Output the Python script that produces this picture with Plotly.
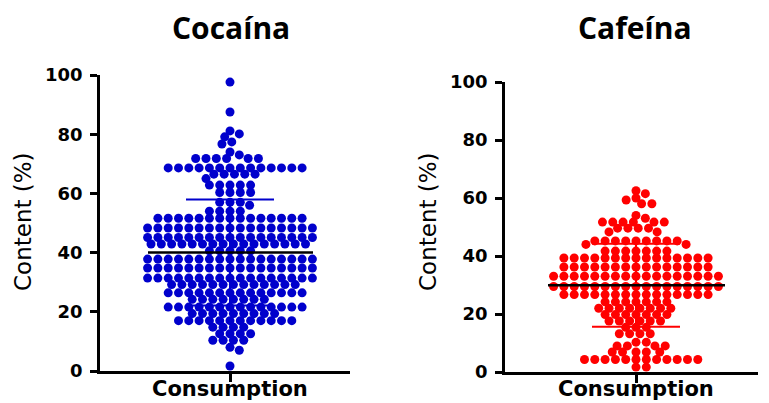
import math
import statistics
import plotly.graph_objects as go

# Content (%) measured per consumption sample
cocaine_content = [
    97.6, 87.5, 81.1, 80.1, 79.1, 77.4, 76.7, 74.0, 73.0,
    71.8, 71.8, 71.8, 71.8, 71.8, 71.8,
    68.6, 68.6, 68.6, 68.6, 68.6, 68.6, 68.6, 68.6, 68.6, 68.6, 68.6, 68.6, 68.6, 68.6,
    66.5, 66.5, 66.5, 66.5, 66.5, 65.0,
    62.8, 62.8, 62.8, 62.8, 62.8, 60.3, 60.3, 60.3, 60.3,
    57.0, 57.0, 57.0, 56.0, 54.0, 54.0, 54.0, 54.0,
    51.6, 51.6, 51.6, 51.6, 51.6, 51.6, 51.6, 51.6, 51.6, 51.6, 51.6, 51.6, 51.6, 51.6, 51.6,
    48.3, 48.3, 48.3, 48.3, 48.3, 48.3, 48.3, 48.3, 48.3, 48.3, 48.3, 48.3, 48.3, 48.3, 48.3, 48.3, 48.3,
    45.1, 45.1, 45.1, 45.1, 45.1, 45.1, 45.1, 45.1, 45.1, 45.1, 45.1, 45.1, 45.1, 45.1, 45.1, 45.1, 45.1,
    42.9, 42.9, 42.9, 42.9, 42.9, 42.9, 42.9, 42.9, 42.9, 42.9, 42.9, 42.9, 42.9, 42.9, 42.9, 42.9,
    40.6, 40.6, 40.6, 40.6, 40.6,
    37.8, 37.8, 37.8, 37.8, 37.8, 37.8, 37.8, 37.8, 37.8, 37.8, 37.8, 37.8, 37.8, 37.8, 37.8, 37.8, 37.8,
    34.8, 34.8, 34.8, 34.8, 34.8, 34.8, 34.8, 34.8, 34.8, 34.8, 34.8, 34.8, 34.8, 34.8, 34.8, 34.8, 34.8,
    31.4, 31.4, 31.4, 31.4, 31.4, 31.4, 31.4, 31.4, 31.4, 31.4, 31.4, 31.4, 31.4, 31.4, 31.4, 31.4, 31.4,
    29.2, 29.2, 29.2, 29.2, 29.2, 29.2, 29.2, 29.2, 29.2, 29.2, 29.2, 29.2, 29.2,
    26.4, 26.4, 26.4, 26.4, 26.4, 26.4, 26.4, 26.4, 26.4, 26.4, 26.4, 26.4, 26.4, 26.4,
    24.2, 24.2, 24.2, 24.2, 24.2, 24.2, 24.2, 24.2,
    21.6, 21.6, 21.6, 21.6, 21.6, 21.6, 21.6, 21.6, 21.6, 21.6, 21.6, 21.6, 21.6, 21.6,
    19.4, 19.4, 19.4, 19.4, 19.4, 19.4, 19.4, 19.4, 19.4,
    17.0, 17.0, 17.0, 17.0, 17.0, 17.0, 17.0, 17.0, 17.0, 17.0, 17.0, 17.0,
    14.8, 14.8, 14.8, 14.8, 12.6, 12.6, 12.6, 12.6,
    10.4, 10.4, 10.4, 10.4, 8.0, 7.0, 1.7,
]

caffeine_content = [
    62.5, 61.5, 60.0, 59.3, 58.0, 58.0, 54.0, 53.0,
    51.7, 51.7, 51.7, 51.7, 51.7, 51.7, 49.6, 49.6, 49.6, 49.6, 48.3, 48.3,
    45.2, 45.2, 45.2, 45.2, 45.2, 45.2, 45.2, 45.2, 45.2, 44.0, 44.0,
    41.7, 41.7, 41.7, 41.7, 41.7, 41.7, 41.7,
    39.3, 39.3, 39.3, 39.3, 39.3, 39.3, 39.3, 39.3, 39.3, 39.3, 39.3, 39.3, 39.3, 39.3, 39.3,
    36.2, 36.2, 36.2, 36.2, 36.2, 36.2, 36.2, 36.2, 36.2, 36.2, 36.2, 36.2, 36.2, 36.2, 36.2,
    33.0, 33.0, 33.0, 33.0, 33.0, 33.0, 33.0, 33.0, 33.0, 33.0, 33.0, 33.0, 33.0, 33.0, 33.0, 33.0, 33.0,
    29.5, 29.5, 29.5, 29.5, 29.5, 29.5, 29.5, 29.5, 29.5, 29.5, 29.5, 29.5, 29.5, 29.5, 29.5, 29.5, 29.5,
    26.7, 26.7, 26.7, 26.7, 26.7, 26.7, 26.7, 26.7, 26.7, 26.7, 26.7, 26.7, 26.7, 26.7, 26.7,
    24.2, 24.2, 24.2, 24.2, 24.2, 24.2, 24.2,
    22.0, 22.0, 22.0, 22.0, 22.0, 22.0, 22.0, 22.0,
    19.8, 19.8, 19.8, 19.8, 19.8, 19.8, 19.8,
    17.6, 17.6, 17.6, 17.6, 17.6, 17.6, 15.4, 15.4, 15.4,
    13.2, 13.2, 13.2, 13.2, 10.3, 10.3, 9.0, 9.0, 9.0, 9.0,
    6.9, 6.9, 6.9, 6.9, 6.9,
    4.3, 4.3, 4.3, 4.3, 4.3, 4.3, 4.3, 4.3, 4.3, 4.3, 4.3, 4.3, 1.7, 1.7,
]

panel_titles = ["Cocaína", "Cafeína"]
category_label = "Consumption"
y_title = "Content (%)"
y_ticks = [0, 20, 40, 60, 80, 100]

W, H = 769, 403

# Panel geometry in pixels (left edge, right edge, category centre, top, bottom)
panels = [
    dict(x0=100, x1=350, cx=230, top=75, bot=371, color="#0000CC",
         mean_half=(82, 83), title_x=231, ytitle_x=23),
    dict(x0=505, x1=758, cx=636, top=82, bot=372, color="#FF0000",
         mean_half=(88, 89), title_x=635, ytitle_x=428),
]


def swarm_offsets(values, px_per_unit, step=10.3, rad=6.9):
    """Greedy beeswarm: each point goes to the free slot nearest the centre line.
    Horizontal distances are scaled so equal values sit `step` px apart while
    neighbouring rows can interleave."""
    k = step / rad
    placed = []
    xs = [0.0] * len(values)
    order = sorted(range(len(values)), key=lambda i: -values[i])
    for i in order:
        y = values[i] * px_per_unit
        near = [(px, py) for px, py in placed if abs(py - y) < rad]
        cands = {0.0}
        for px, py in near:
            h = math.sqrt(rad * rad - (py - y) ** 2)
            cands.add(px + h)
            cands.add(px - h)
        best = 0.0
        for c in sorted(cands, key=lambda c: (abs(c), -c)):
            if all((c - px) ** 2 + (py - y) ** 2 >= rad * rad - 1e-6 for px, py in near):
                best = c
                break
        placed.append((best, y))
        xs[i] = best * k
    return xs


fig = go.Figure()
axis_font = dict(family="DejaVu Sans", size=18, color="black", weight="bold")

for n, (vals, p) in enumerate(zip([cocaine_content, caffeine_content], panels), start=1):
    ppu = (p["bot"] - p["top"]) / 100.0
    xs = swarm_offsets(vals, ppu)
    xa = "x" if n == 1 else f"x{n}"
    ya = "y" if n == 1 else f"y{n}"

    fig.add_trace(go.Scatter(
        x=xs, y=vals, mode="markers", xaxis=xa, yaxis=ya,
        marker=dict(size=9, color=p["color"], line=dict(width=0)),
        hoverinfo="y", showlegend=False,
    ))

    mean = statistics.mean(vals)
    sd = statistics.stdev(vals)
    lo, hi = mean - sd, mean + sd
    # SD whisker: vertical bar plus two caps
    fig.add_trace(go.Scatter(
        x=[0, 0, None, -44, 44, None, -44, 44],
        y=[lo, hi, None, hi, hi, None, lo, lo],
        mode="lines", xaxis=xa, yaxis=ya,
        line=dict(color=p["color"], width=2), hoverinfo="skip", showlegend=False,
    ))
    # Mean line
    fig.add_trace(go.Scatter(
        x=[-p["mean_half"][0], p["mean_half"][1]], y=[mean, mean],
        mode="lines", xaxis=xa, yaxis=ya,
        line=dict(color="black", width=2.5), hoverinfo="skip", showlegend=False,
    ))

    xdom = [p["x0"] / W, p["x1"] / W]
    ydom = [1 - p["bot"] / H, 1 - p["top"] / H]
    fig.update_layout(**{
        ("xaxis" if n == 1 else f"xaxis{n}"): dict(
            domain=xdom, range=[p["x0"] - p["cx"], p["x1"] - p["cx"]],
            anchor=ya, showgrid=False, zeroline=False, automargin=False,
            showline=True, linecolor="black", linewidth=2.5,
            ticks="outside", ticklen=8, tickwidth=2.5, tickcolor="black",
            tickvals=[0], showticklabels=False,
            fixedrange=True,
        ),
        ("yaxis" if n == 1 else f"yaxis{n}"): dict(
            domain=ydom, range=[0, 100], anchor=xa, automargin=False,
            showgrid=False, zeroline=False,
            showline=True, linecolor="black", linewidth=2.5,
            ticks="outside", ticklen=7, tickwidth=2.5, tickcolor="black",
            tickvals=y_ticks, tickfont=axis_font, ticklabelstandoff=4,
            fixedrange=True,
        ),
    })

    # Category label under the single x tick
    fig.add_annotation(
        text=f"<b>{category_label}</b>", xref="paper", yref="paper",
        x=p["cx"] / W, y=1 - 389 / H, xanchor="center", yanchor="middle",
        showarrow=False, font=dict(family="DejaVu Sans", size=21, color="black"),
    )
    fig.add_annotation(
        text=f"<b>{panel_titles[n - 1]}</b>", xref="paper", yref="paper",
        x=p["title_x"] / W, y=1 - 28 / H, xanchor="center", yanchor="middle",
        showarrow=False, font=dict(family="Open Sans", size=30, color="black"),
    )
    fig.add_annotation(
        text=y_title, xref="paper", yref="paper", textangle=-90,
        x=p["ytitle_x"] / W, y=1 - 222 / H, xanchor="center", yanchor="middle",
        showarrow=False, font=dict(family="DejaVu Sans", size=23, color="black"),
    )

fig.update_layout(
    width=W, height=H, margin=dict(l=0, r=0, t=0, b=0),
    paper_bgcolor="white", plot_bgcolor="white",
)

fig.write_html("out.html", include_plotlyjs=True, full_html=True,
               config={"displayModeBar": False})
